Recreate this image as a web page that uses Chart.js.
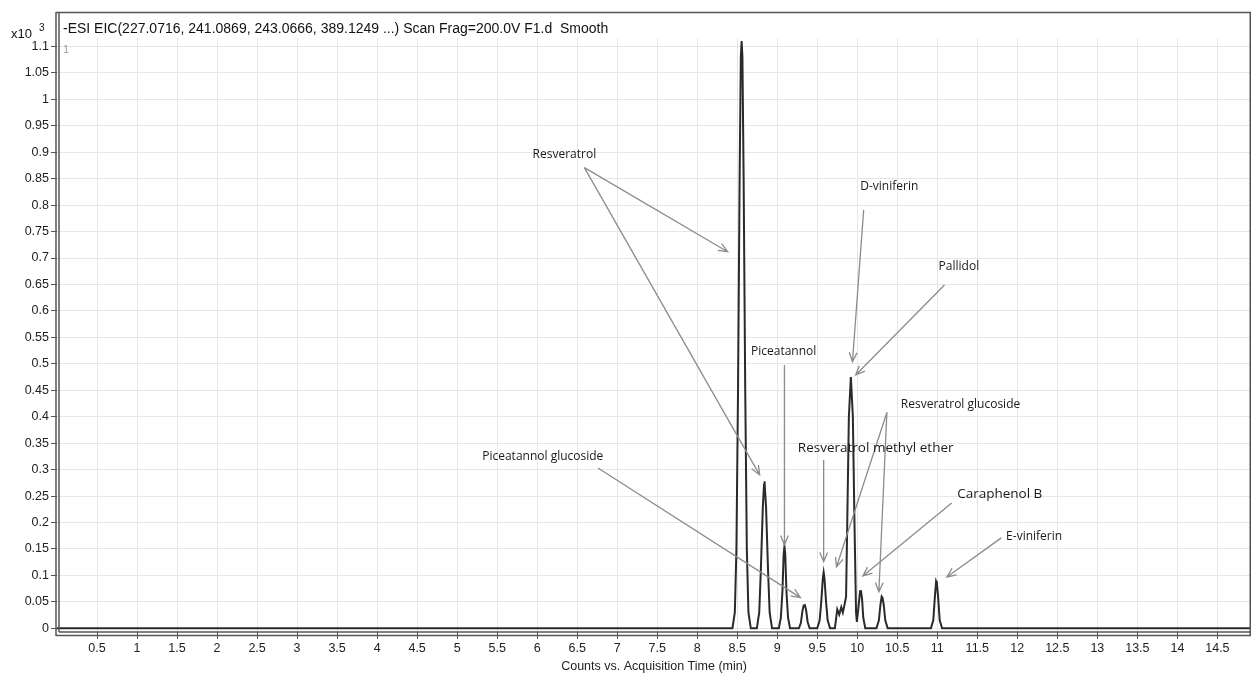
<!DOCTYPE html>
<html>
<head>
<meta charset="utf-8">
<script src="https://cdn.jsdelivr.net/npm/chart.js@4"></script>
<style>
  body { margin: 0; background: #fff; }
  #wrap { width: 1251px; height: 675px; }
</style>
</head>
<body>
<div id="wrap"><canvas id="eic" width="1251" height="675"></canvas></div>
<script>
// retention time (min) and counts (x10^3)
const times = [
    0.0,
    8.44, 8.47, 8.49, 8.51, 8.53, 8.545, 8.555, 8.565, 8.58, 8.60, 8.62, 8.64, 8.67,
    8.745, 8.775, 8.795, 8.82, 8.835, 8.84, 8.845, 8.86, 8.885, 8.905, 8.935,
    9.02, 9.045, 9.065, 9.08, 9.09, 9.10, 9.115, 9.135, 9.16,
    9.27, 9.295, 9.315, 9.33, 9.345, 9.36, 9.38, 9.405,
    9.50, 9.53, 9.55, 9.57, 9.58, 9.59, 9.61, 9.63, 9.66,
    9.72, 9.75, 9.775, 9.80, 9.82, 9.84, 9.86,
    9.875, 9.895, 9.92, 9.945, 9.965, 9.985, 9.995,
    10.015, 10.035, 10.045, 10.06, 10.075, 10.10,
    10.24, 10.27, 10.29, 10.305, 10.315, 10.33, 10.35, 10.38,
    10.92, 10.95, 10.97, 10.985, 10.995, 11.01, 11.03, 11.06,
    14.92
];
const counts = [
    0,
    0, 0.03, 0.15, 0.45, 0.85, 1.08, 1.11, 1.08, 0.85, 0.45, 0.15, 0.03, 0,
    0, 0.03, 0.11, 0.23, 0.272, 0.278, 0.272, 0.23, 0.11, 0.03, 0,
    0, 0.02, 0.07, 0.14, 0.155, 0.14, 0.07, 0.02, 0,
    0, 0.01, 0.033, 0.043, 0.044, 0.035, 0.012, 0,
    0, 0.015, 0.05, 0.095, 0.106, 0.095, 0.05, 0.015, 0,
    0, 0.036, 0.026, 0.04, 0.03, 0.044, 0.06,
    0.2, 0.4, 0.475, 0.40, 0.2, 0.03, 0.012,
    0.04, 0.07, 0.072, 0.055, 0.02, 0,
    0, 0.015, 0.045, 0.06, 0.058, 0.045, 0.015, 0,
    0, 0.015, 0.06, 0.089, 0.085, 0.06, 0.015, 0,
    0
];

const xTicks = [0.5, 1, 1.5, 2, 2.5, 3, 3.5, 4, 4.5, 5, 5.5, 6, 6.5, 7, 7.5, 8, 8.5, 9, 9.5, 10,
    10.5, 11, 11.5, 12, 12.5, 13, 13.5, 14, 14.5];
const yTicks = [0, 0.05, 0.1, 0.15, 0.2, 0.25, 0.3, 0.35, 0.4, 0.45, 0.5, 0.55, 0.6, 0.65, 0.7,
    0.75, 0.8, 0.85, 0.9, 0.95, 1, 1.05, 1.1];

// compound labels (centre of text, in data units) and their arrows
const labelText = ["Resveratrol", "Piceatannol", "D-viniferin", "Pallidol", "Resveratrol glucoside",
    "Resveratrol methyl ether", "Piceatannol glucoside", "Caraphenol B", "E-viniferin"];
const labelX = [6.34, 9.08, 10.40, 11.27, 11.29, 10.23, 6.07, 11.78, 12.21];
const labelY = [0.895, 0.523, 0.835, 0.683, 0.423, 0.34, 0.324, 0.254, 0.173];
const labelSize = [12, 12, 12, 12, 12, 13.5, 12, 13.5, 12];
// [x1, y1, x2, y2], arrowhead at x2/y2
const arrows = [
    [6.59, 0.871, 8.38, 0.712],
    [6.59, 0.871, 8.78, 0.290],
    [9.09, 0.498, 9.09, 0.158],
    [10.08, 0.791, 9.94, 0.504],
    [11.09, 0.649, 9.98, 0.479],
    [10.37, 0.408, 9.74, 0.116],
    [10.37, 0.408, 10.27, 0.069],
    [9.58, 0.318, 9.58, 0.126],
    [6.76, 0.303, 9.29, 0.058],
    [11.18, 0.237, 10.07, 0.099],
    [11.80, 0.171, 11.12, 0.097]
];

const titleText = "-ESI EIC(227.0716, 241.0869, 243.0666, 389.1249 ...) Scan Frag=200.0V F1.d  Smooth";

const framePlugin = {
    id: 'frame',
    afterDraw(chart) {
        const ctx = chart.ctx;
        const a = chart.chartArea;
        const xs = chart.scales.x, ys = chart.scales.y;
        ctx.save();

        // annotations
        ctx.strokeStyle = '#8c8c8c';
        ctx.lineWidth = 1.3;
        arrows.forEach(ar => {
            const x1 = xs.getPixelForValue(ar[0]), y1 = ys.getPixelForValue(ar[1]);
            const x2 = xs.getPixelForValue(ar[2]), y2 = ys.getPixelForValue(ar[3]);
            const ang = Math.atan2(y2 - y1, x2 - x1);
            ctx.beginPath();
            ctx.moveTo(x1, y1);
            ctx.lineTo(x2, y2);
            ctx.moveTo(x2 - 10 * Math.cos(ang - 0.4), y2 - 10 * Math.sin(ang - 0.4));
            ctx.lineTo(x2, y2);
            ctx.lineTo(x2 - 10 * Math.cos(ang + 0.4), y2 - 10 * Math.sin(ang + 0.4));
            ctx.stroke();
        });
        ctx.fillStyle = '#1a1a1a';
        ctx.textAlign = 'center';
        ctx.textBaseline = 'middle';
        labelText.forEach((t, i) => {
            ctx.font = labelSize[i] + 'px "Open Sans"';
            ctx.fillText(t, xs.getPixelForValue(labelX[i]), ys.getPixelForValue(labelY[i]));
        });

        // frame, double lines on the left and bottom
        ctx.strokeStyle = '#555';
        ctx.lineWidth = 1.5;
        ctx.beginPath();
        ctx.moveTo(a.left - 1, 12.5);
        ctx.lineTo(chart.width, 12.5);
        ctx.moveTo(a.left - 1, 12);
        ctx.lineTo(a.left - 1, a.bottom + 4);
        ctx.moveTo(a.left + 2, 12);
        ctx.lineTo(a.left + 2, a.bottom);
        ctx.moveTo(a.left + 2, a.bottom);
        ctx.lineTo(chart.width, a.bottom);
        ctx.moveTo(a.left - 1, a.bottom + 3.5);
        ctx.lineTo(chart.width, a.bottom + 3.5);
        ctx.moveTo(chart.width - 0.75, 12);
        ctx.lineTo(chart.width - 0.75, a.bottom + 4);
        ctx.stroke();

        // header text
        ctx.textAlign = 'left';
        ctx.textBaseline = 'alphabetic';
        ctx.fillStyle = '#111';
        ctx.font = '14px "Liberation Sans"';
        ctx.fillText(titleText, a.left + 6, 33);
        ctx.font = '13px "Liberation Sans"';
        ctx.fillText('x10', 11, 38);
        ctx.font = '10px "Liberation Sans"';
        ctx.fillText('3', 39, 31);
        ctx.fillStyle = '#999';
        ctx.font = '11px "Liberation Sans"';
        ctx.fillText('1', a.left + 6, 53);
        ctx.restore();
    }
};

new Chart(document.getElementById('eic'), {
    type: 'line',
    data: {
        datasets: [{
            data: times.map((t, i) => ({ x: t, y: counts[i] })),
            borderColor: '#2a2a2a',
            borderWidth: 2,
            pointRadius: 0,
            tension: 0,
            fill: false
        }]
    },
    options: {
        responsive: false,
        animation: false,
        devicePixelRatio: 1,
        layout: { padding: { top: 38, right: 0, left: 0, bottom: 0 } },
        plugins: {
            legend: { display: false },
            tooltip: { enabled: false }
        },
        scales: {
            x: {
                type: 'linear',
                min: 0,
                max: 14.92,
                afterFit: s => { s.height = 43; },
                afterBuildTicks: s => { s.ticks = xTicks.map(v => ({ value: v })); },
                border: { display: false },
                grid: { color: '#e6e6e6', tickColor: '#555', tickLength: 7, lineWidth: 1 },
                ticks: {
                    color: '#222',
                    font: { family: 'Liberation Sans', size: 12.5 },
                    maxRotation: 0,
                    autoSkip: false,
                    padding: 2,
                    callback: v => String(v)
                },
                title: {
                    display: true,
                    text: 'Counts vs. Acquisition Time (min)',
                    color: '#222',
                    font: { family: 'Liberation Sans', size: 12.5 },
                    padding: { top: 0, bottom: 1 }
                }
            },
            y: {
                min: -0.007,
                max: 1.116,
                afterFit: s => { s.width = 57; },
                afterBuildTicks: s => { s.ticks = yTicks.map(v => ({ value: v })); },
                border: { display: false },
                grid: { color: '#e6e6e6', tickColor: '#555', tickLength: 6, lineWidth: 1 },
                ticks: {
                    color: '#222',
                    font: { family: 'Liberation Sans', size: 12.5 },
                    autoSkip: false,
                    padding: 2,
                    callback: v => String(v)
                }
            }
        }
    },
    plugins: [framePlugin]
});
</script>
</body>
</html>
